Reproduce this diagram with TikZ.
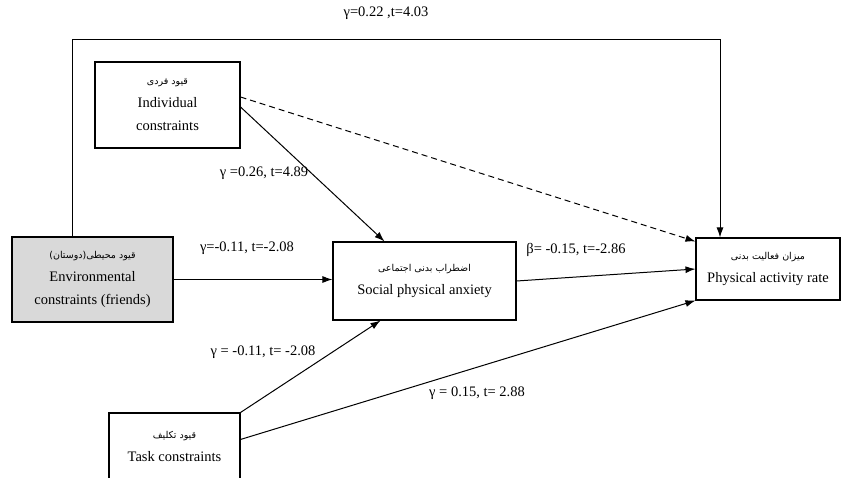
\documentclass[tikz,border=0pt]{standalone}
\usepackage{fontspec}
\setmainfont{Liberation Serif}
\newfontfamily\fafont[Script=Arabic]{DejaVu Sans}
\TeXXeTstate=1
\usetikzlibrary{arrows.meta}
\newcommand{\fa}[1]{{\fafont\fontsize{9.5}{10}\selectfont\beginR #1\endR}}
\tikzset{
  box/.style={draw,line width=1.1pt,align=center,inner sep=0pt,font=\fontsize{14.5}{23}\selectfont},
  lbl/.style={font=\fontsize{14.5}{16}\selectfont,inner sep=1pt},
}

\begin{document}
\begin{tikzpicture}[x=1pt,y=-1pt,>={Latex[length=10pt,width=7pt]},line width=1pt]
\clip (0,0) rectangle (842,477);
\node[box,minimum width=145pt,minimum height=86pt] (indiv) at (167.5,105) {\fa{قیود فردی}\\Individual\\constraints};
\node[box,fill=gray!30,minimum width=161pt,minimum height=85pt] (env) at (92.5,279.5) {\fa{قیود محیطی(دوستان)}\\Environmental\\constraints (friends)};
\node[box,minimum width=183pt,minimum height=78pt] (anx) at (424.5,281) {\fa{اضطراب بدنی اجتماعی}\\Social physical anxiety};
\node[box,minimum width=144pt,minimum height=62pt] (pa) at (768,269) {\fa{میزان فعالیت بدنی}\\Physical activity rate};
\node[box,minimum width=131pt,minimum height=66pt] (task) at (174.5,446) {\fa{قیود تکلیف}\\Task constraints};
% paths
\coordinate (topR) at (720,39);
\draw[->] ([xshift=-20pt]env.north) |- (topR) -- ([xshift=-48pt]pa.north);
\node[lbl] (l1) at (386,13) {γ=0.22 ,t=4.03};
\draw[->] ([yshift=-2pt]indiv.east) -- ([xshift=-40pt]anx.north);
\node[lbl] (l2) at (264,173) {γ =0.26, t=4.89};
\draw[->,dash pattern=on 6pt off 4pt] ([yshift=8pt]indiv.east) -- ([yshift=-4pt]pa.north west);
\draw[->] (env.east) -- (env.east -| anx.west);
\node[lbl] (l3) at (247,248) {γ=-0.11, t=-2.08};
\draw[->] (anx.east) -- (pa.west);
\node[lbl] (l4) at (576,250) {β= -0.15, t=-2.86};
\draw[->] (task.north east) -- ([xshift=-44pt]anx.south);
\node[lbl] (l5) at (263,352) {γ = -0.11, t= -2.08};
\draw[->] ([yshift=-27pt]task.north east) -- (pa.south west);
\node[lbl] (l6) at (477,393) {γ = 0.15, t= 2.88};
\end{tikzpicture}
\end{document}
